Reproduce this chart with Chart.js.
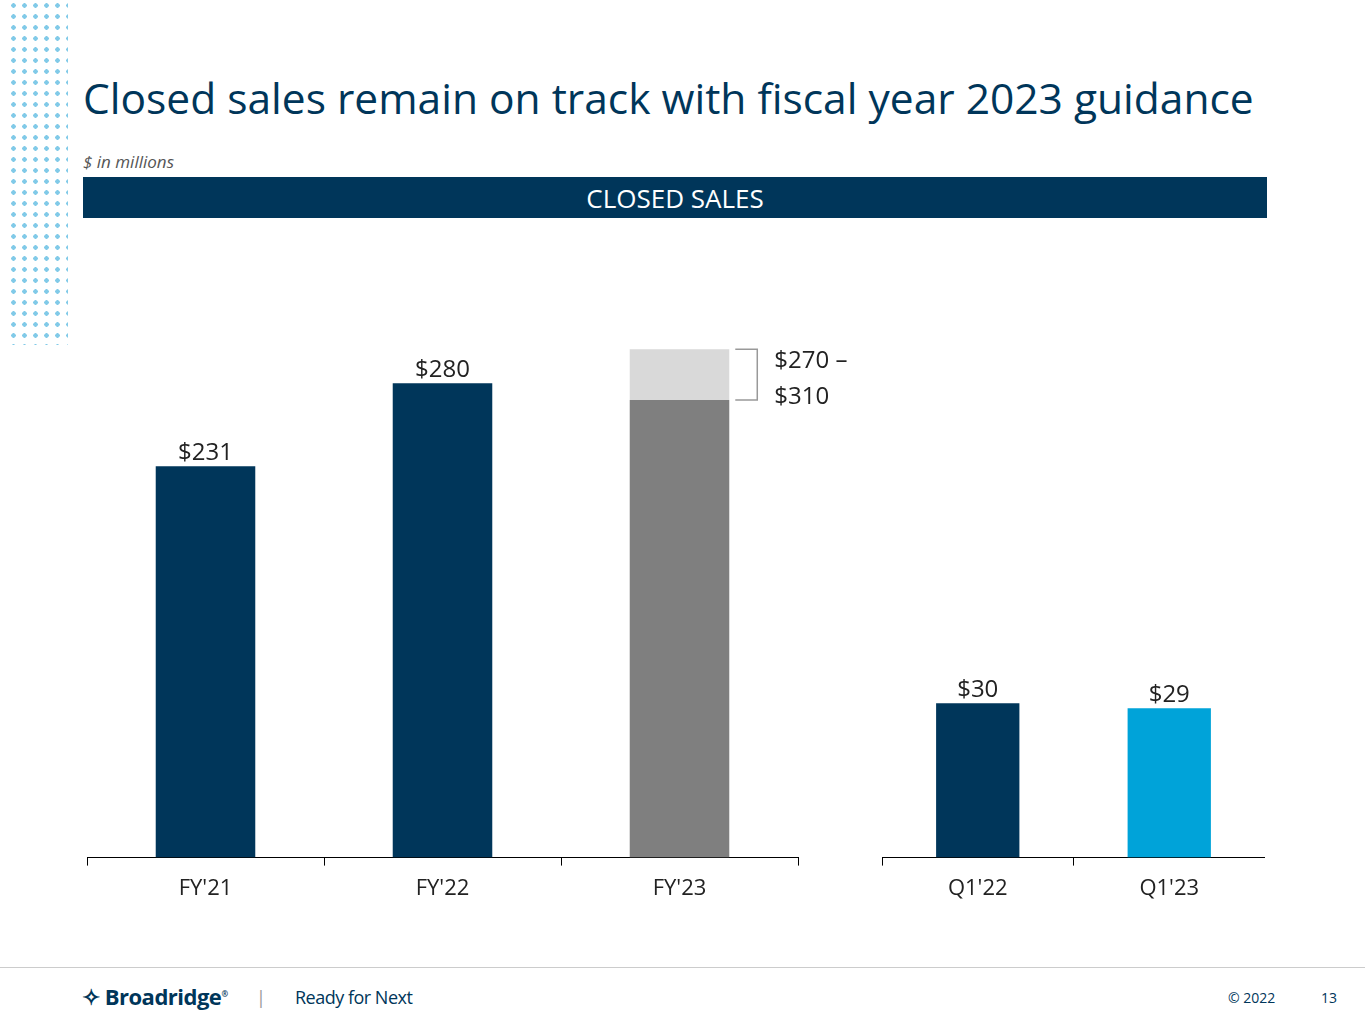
<!DOCTYPE html>
<html>
<head>
<meta charset="utf-8">
<script src="https://cdn.jsdelivr.net/npm/chart.js@4"></script>
<style>
  body { margin:0; width:1365px; height:1024px; background:#fff; font-family:"Open Sans",sans-serif; position:relative; overflow:hidden; }
  .abs { position:absolute; }
  #title { left:83px; top:69px; font-size:42.5px; color:#00365a; white-space:nowrap; }
  #sub { left:83px; top:150px; font-size:17px; font-style:italic; color:#555; }
  #band { left:83px; top:177px; width:1184px; height:41px; background:#00365a; color:#fff; font-size:26px; text-align:center; line-height:42px; }
  #dots { left:8px; top:0; width:60px; height:345px;
    background-image: radial-gradient(circle, #1a9fd6 2px, transparent 2.5px);
    background-size: 11px 11px; opacity:0.55; }
  #foot { left:0; top:967px; width:1365px; height:1px; background:#ccc; }
  .ft { top:985px; font-size:18px; color:#00365a; }
</style>
</head>
<body>
<div id="dots" class="abs"></div>
<div id="title" class="abs">Closed sales remain on track with fiscal year 2023 guidance</div>
<div id="sub" class="abs">$ in millions</div>
<div id="band" class="abs">CLOSED SALES</div>
<div class="abs" style="left:87px;top:312px;width:811px;height:600px"><canvas id="c1"></canvas></div>
<div class="abs" style="left:882px;top:312px;width:383px;height:600px"><canvas id="c2"></canvas></div>
<div id="foot" class="abs"></div>
<div class="abs ft" style="left:82px;top:981px;font-size:22px;font-weight:bold;letter-spacing:-0.5px">&#x2727; Broadridge<sup style="font-size:8px">&reg;</sup></div>
<div class="abs ft" style="left:256px;color:#999">|</div>
<div class="abs ft" style="left:295px;letter-spacing:-0.5px">Ready for Next</div>
<div class="abs ft" style="left:1228px;font-size:14px;top:988px">&copy; 2022</div>
<div class="abs ft" style="left:1321px;font-size:14px;top:988px">13</div>
<script>
// --- Data ---
var FY_LABELS = ["FY'21", "FY'22", "FY'23"];
var FY_ACTUAL = [231, 280, null];
var FY23_GUIDE_LOW = [null, null, 270];
var FY23_GUIDE_RANGE = [null, null, 30];
var FY_VALUE_TEXT = ['$231', '$280', null];
var GUIDE_TEXT = ['$270 \u2013', '$310'];

var Q_LABELS = ["Q1'22", "Q1'23"];
var Q_VALUES = [30, 29];
var Q_VALUE_TEXT = ['$30', '$29'];

var NAVY = '#00365a';
var FONT = '"Open Sans", sans-serif';

// --- Labels plugin ---
var labelsPlugin = {
  id: 'valueLabels',
  afterDatasetsDraw: function (chart, args, opts) {
    var ctx = chart.ctx;
    ctx.save();
    ctx.fillStyle = '#222';
    ctx.font = '24px ' + FONT;
    ctx.textAlign = 'center';
    ctx.textBaseline = 'bottom';
    var meta = chart.getDatasetMeta(0);
    opts.texts.forEach(function (t, i) {
      if (!t) return;
      var el = meta.data[i];
      ctx.fillText(t, el.x, el.y - 1);
    });
    if (opts.guide) {
      var m2 = chart.getDatasetMeta(2).data[2];
      var right = m2.x + m2.width / 2;
      var top = m2.y, bot = m2.base;
      ctx.strokeStyle = '#999';
      ctx.lineWidth = 1.5;
      ctx.beginPath();
      ctx.moveTo(right + 6, top);
      ctx.lineTo(right + 28, top);
      ctx.lineTo(right + 28, bot);
      ctx.lineTo(right + 6, bot);
      ctx.stroke();
      ctx.textAlign = 'left';
      ctx.textBaseline = 'middle';
      ctx.fillText(opts.guide[0], right + 45, top + 12);
      ctx.fillText(opts.guide[1], right + 45, top + 48);
    }
    ctx.restore();
  }
};

function xAxis() {
  return {
    stacked: true,
    grid: { offset: true, drawOnChartArea: false, drawTicks: true, tickLength: 8, color: '#000' },
    border: { color: '#000', width: 1 },
    ticks: { color: '#222', font: { size: 22, family: FONT }, padding: 10 }
  };
}

new Chart(document.getElementById('c1'), {
  type: 'bar',
  data: {
    labels: FY_LABELS,
    datasets: [
      { data: FY_ACTUAL, backgroundColor: NAVY, barPercentage: 0.84, categoryPercentage: 0.5 },
      { data: FY23_GUIDE_LOW, backgroundColor: '#7f7f7f', barPercentage: 0.84, categoryPercentage: 0.5 },
      { data: FY23_GUIDE_RANGE, backgroundColor: '#d9d9d9', barPercentage: 0.84, categoryPercentage: 0.5 }
    ]
  },
  options: {
    responsive: true, maintainAspectRatio: false, animation: false,
    layout: { padding: { left: 0, right: 100, top: 0, bottom: 0 } },
    plugins: { legend: { display: false }, tooltip: { enabled: false },
      valueLabels: { texts: FY_VALUE_TEXT, guide: GUIDE_TEXT } },
    scales: { x: xAxis(), y: { stacked: true, display: false, min: 0, max: 322 } }
  },
  plugins: [labelsPlugin]
});

new Chart(document.getElementById('c2'), {
  type: 'bar',
  data: {
    labels: Q_LABELS,
    datasets: [{ data: Q_VALUES, backgroundColor: [NAVY, '#00a3d9'], barPercentage: 0.87, categoryPercentage: 0.5 }]
  },
  options: {
    responsive: true, maintainAspectRatio: false, animation: false,
    layout: { padding: 0 },
    plugins: { legend: { display: false }, tooltip: { enabled: false },
      valueLabels: { texts: Q_VALUE_TEXT } },
    scales: { x: xAxis(), y: { display: false, min: 0, max: 106 } }
  },
  plugins: [labelsPlugin]
});
</script>
</body>
</html>
